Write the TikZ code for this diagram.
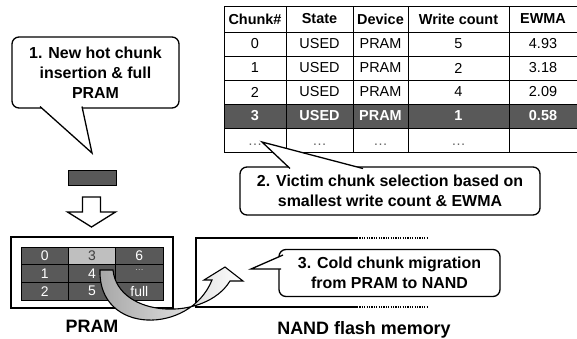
\documentclass[tikz,border=0pt]{standalone}
\usepackage{fontspec}
\setmainfont{Liberation Sans}
\usetikzlibrary{calc, positioning}

\definecolor{darkcell}{RGB}{89,89,89}
\definecolor{lightcell}{RGB}{191,191,191}

\tikzset{
  bubble/.style={draw=black, line width=1.3bp, rounded corners=7bp, fill=white,
    align=center, inner sep=0pt, font=\fontsize{16}{20}\selectfont\bfseries},
  bubbleline/.style={draw=black, line width=1.3bp, line join=miter},
  tablegrid/.style={draw=black, line width=0.8bp},
  tabletext/.style={inner sep=0pt, font=\fontsize{14.5}{17}\selectfont},
  tablehead/.style={tabletext, font=\fontsize{14.5}{17}\selectfont\bfseries},
  tablehot/.style={tablehead, text=white},
  tabledots/.style={tabletext, text=black!60},
  gridcell/.style={draw=black, line width=0.8bp, fill=darkcell, text=white,
    minimum width=47.3bp, minimum height=17.7bp, inner sep=0pt,
    font=\fontsize{14}{16}\selectfont},
  memlabel/.style={inner sep=0pt, anchor=base, font=\fontsize{18}{20}\selectfont\bfseries},
  boxline/.style={draw=black, line width=1.3bp}
}

\begin{document}
\begin{tikzpicture}[x=1bp,y=-1bp]
\useasboundingbox (0,0) rectangle (577,338);
\def\tabtop{6}
\def\tabbot{152}
\def\tableft{224}
\def\tabright{577}

% table
\fill[darkcell] (\tableft,104) rectangle (\tabright,128);
\foreach \y in {6,32,56,80,104,128,152}
  \draw[tablegrid] (\tableft,\y) -- (\tabright,\y);
\foreach \x in {224,286,353,408,509}
  \draw[tablegrid] (\x,\tabtop) -- (\x,\tabbot);

\foreach \x/\name/\txt in {255/chunk/Chunk\#, 319.5/state/State, 380.5/device/Device,
    458.5/count/Write count, 543/ewma/EWMA}
  \node[tablehead] (h\name) at (\x,19) {\txt};
\foreach \r/\y/\w/\e in {0/44/5/4.93, 1/68/2/3.18, 2/92/4/2.09}{
  \node[tabletext] (chunk\r) at (255,\y) {\r};
  \node[tabletext] (state\r) at (319.5,\y) {USED};
  \node[tabletext] (device\r) at (380.5,\y) {PRAM};
  \node[tabletext] (count\r) at (458.5,\y) {\w};
  \node[tabletext] (ewma\r) at (543,\y) {\e};
}
\node[tablehot] (chunk3) at (255,116) {3};
\node[tablehot] (state3) at (319.5,116) {USED};
\node[tablehot] (device3) at (380.5,116) {PRAM};
\node[tablehot] (count3) at (458.5,116) {1};
\node[tablehot] (ewma3) at (543,116) {0.58};
\foreach \x/\name in {255/chunk, 319.5/state, 380.5/device, 458.5/count}
  \node[tabledots] (\name more) at (\x,145) {\ldots};

% step 1
\node[bubble, minimum width=167bp, minimum height=71bp] (step1) at (95.5,72.5)
  {1. New hot chunk\\insertion \& full\\PRAM};
\coordinate (tip1) at (92,153);
\coordinate (base1a) at (40,106.5);
\coordinate (base1b) at (82,106.5);
\fill[white] (base1a) -- (tip1) -- (base1b) -- cycle;
\draw[bubbleline] (base1a) -- (tip1) -- (base1b);

\node[draw=black, line width=0.8bp, fill=darkcell, minimum width=48bp,
  minimum height=15bp, inner sep=0pt] (newchunk) at (92,177.5) {};
\draw[boxline, line join=miter] (82.5,197) -- (100.5,197) -- (100.5,212) -- (115.5,212)
  -- (91.5,227) -- (67.5,212) -- (82.5,212) -- cycle;

% PRAM
\node[boxline, minimum width=162bp, minimum height=71bp, inner sep=0pt] (pram) at (92,272.5) {};
\node[gridcell] (cell0) at (44.67,255.83) {0};
\node[gridcell] (cell1) at (44.67,273.5) {1};
\node[gridcell] (cell2) at (44.67,291.17) {2};
\node[gridcell, fill=lightcell, text=black!75] (cell3) at (92,255.83) {3};
\node[gridcell] (cell4) at (92,273.5) {4};
\node[gridcell] (cell5) at (92,291.17) {5};
\node[gridcell] (cell6) at (139.33,255.83) {6};
\node[gridcell, font=\fontsize{9}{10}\selectfont, text=white!80!black] (cellmore) at (139.33,273.5) {\raisebox{1.5ex}{\ldots}};
\node[gridcell] (cellfull) at (139.33,291.17) {full};
\node[memlabel] (pramlabel) at (92,332.5) {PRAM};

% NAND
\coordinate (nandtop) at (357,238);
\coordinate (nandbot) at (357,307);
\draw[boxline] (nandtop) -- (196,238) -- (196,307) -- (nandbot);
\draw[line width=1.3bp, dash pattern=on 1.2bp off 1.2bp] (nandtop) -- (427,238);
\draw[line width=1.3bp, dash pattern=on 1.2bp off 1.2bp] (nandbot) -- (427,307);
\node[memlabel] (nandlabel) at (364,334) {NAND flash memory};

% step 2
\node[bubble, minimum width=300bp, minimum height=48bp] (step2) at (390,191)
  {2. Victim chunk selection based on\\smallest write count \& EWMA};
\coordinate (tip2) at (262,142);
\coordinate (base2a) at (290,168.5);
\coordinate (base2b) at (363,168.5);
\fill[white] (base2a) -- (tip2) -- (base2b) -- cycle;
\draw[bubbleline] (base2a) -- (tip2) -- (base2b);

% step 3
\node[bubble, minimum width=221bp, minimum height=47bp] (step3) at (389.5,273)
  {3. Cold chunk migration\\from PRAM to NAND};
\coordinate (tip3) at (251,269);
\coordinate (base3a) at (283,255);
\coordinate (base3b) at (281,269);
\fill[white] (base3a) -- (tip3) -- (base3b) -- cycle;
\draw[bubbleline] (base3a) -- (tip3) -- (base3b);

% migration arrow
\path[draw=black, line width=1.1bp, line join=miter, left color=black!35, right color=white]
  (100,270) .. controls (98,335) and (190,335) .. (212,280)
  -- (204,280) -- (225,267) -- (243,281) -- (230,281)
  .. controls (205,322) and (118,318) .. (113,270) -- cycle;
\end{tikzpicture}
\end{document}
